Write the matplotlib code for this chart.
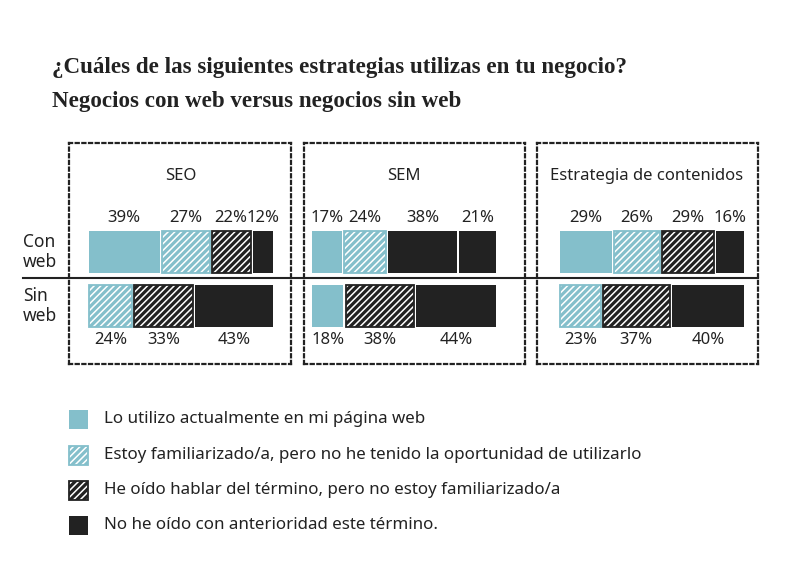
import matplotlib as mpl
import matplotlib.pyplot as plt
from matplotlib.patches import Rectangle

mpl.rcParams['font.family'] = ['Noto Sans', 'DejaVu Sans']
mpl.rcParams['hatch.linewidth'] = 1.1

# ======= data =======
strategies = ['SEO', 'SEM', 'Estrategia de contenidos']
categories = ['Lo utilizo actualmente en mi página web',
              'Estoy familiarizado/a, pero no he tenido la oportunidad de utilizarlo',
              'He oído hablar del término, pero no estoy familiarizado/a',
              'No he oído con anterioridad este término.']
con_web = [[39, 27, 22, 12],
           [17, 24, 38, 21],
           [29, 26, 29, 16]]
sin_web = [[0, 24, 33, 43],
           [18, 0, 38, 44],
           [0, 23, 37, 40]]
row_labels = ['Con\nweb', 'Sin\nweb']

# ======= styles =======
TEAL = '#84bfcb'
DARK = '#222222'
styles = [(TEAL, False), (TEAL, True), (DARK, True), (DARK, False)]
# the original draws SEM / con web / "He oído..." as a solid bar
solid_override = {(1, 0, 2)}

W, H = 800, 572
fig = plt.figure(figsize=(8, 5.72), dpi=100)

bg = fig.add_axes([0, 0, 1, 1])
bg.set_xlim(0, W)
bg.set_ylim(H, 0)
bg.axis('off')

bg.text(52, 68, '¿Cuáles de las siguientes estrategias utilizas en tu negocio?',
        family=['Liberation Serif'], weight='bold', fontsize=16.6,
        color=DARK, va='center', ha='left')
bg.text(52, 102, 'Negocios con web versus negocios sin web',
        family=['Liberation Serif'], weight='bold', fontsize=16.6,
        color=DARK, va='center', ha='left')

bg.text(23, 252, row_labels[0], fontsize=12.5, color=DARK, va='center',
        ha='left', linespacing=1.15)
bg.text(23, 306, row_labels[1], fontsize=12.5, color=DARK, va='center',
        ha='left', linespacing=1.15)
bg.plot([23, 758], [278, 278], color=DARK, lw=1.5, zorder=5)


def draw_seg(ax, left, width, yc, h, color, hatched):
    ax.add_patch(Rectangle((left, yc - h / 2), width, h, facecolor=color,
                           edgecolor='none', zorder=2))
    if hatched:
        ax.add_patch(Rectangle((left, yc - h / 2), width, h, facecolor='none',
                               edgecolor='white', hatch='/////', lw=0, zorder=3))
        ax.add_patch(Rectangle((left, yc - h / 2), width, h, facecolor='none',
                               edgecolor=color, lw=1.3, zorder=4))


# panel boxes in pixels: (left, right, bar start)
panels = [(69, 291, 88), (304, 525, 311), (537, 758, 559)]
title_x = [50, 50, 47]
top, bottom = 143, 364
px_per_pct = 1.86
gap = 1.1
bar_h = 42

for i, (x0, x1, xs) in enumerate(panels):
    ax = fig.add_axes([x0 / W, 1 - bottom / H, (x1 - x0) / W, (bottom - top) / H])
    ax.set_facecolor('none')
    ax.set_xlim(-(xs - x0) / px_per_pct, (x1 - xs) / px_per_pct)
    ax.set_ylim(bottom - top, 0)
    ax.set_xticks([])
    ax.set_yticks([])
    for s in ax.spines.values():
        s.set_linestyle((0, (1.4, 1.6)))
        s.set_linewidth(1.6)
        s.set_color(DARK)

    ax.text(title_x[i], 33, strategies[i], fontsize=12, color=DARK,
            ha='center', va='center')

    for r, (vals, yc, ylab) in enumerate([(con_web[i], 109, 75), (sin_web[i], 163, 197)]):
        cum = 0
        for c, v in enumerate(vals):
            if v == 0:
                continue
            color, hatched = styles[c]
            if (i, r, c) in solid_override:
                hatched = False
            draw_seg(ax, cum + gap / 2, v - gap, yc, bar_h, color, hatched)
            ax.text(cum + v / 2, ylab, f'{v}%', fontsize=12, color=DARK,
                    ha='center', va='center')
            cum += v

# legend
leg_y = [419, 455, 490, 525]
for c, (lab, y) in enumerate(zip(categories, leg_y)):
    color, hatched = styles[c]
    draw_seg(bg, 69, 19, y, 19, color, hatched)
    bg.text(104, y, lab, fontsize=12.2, color=DARK, va='center', ha='left')

fig.savefig('out.png', dpi=100)
